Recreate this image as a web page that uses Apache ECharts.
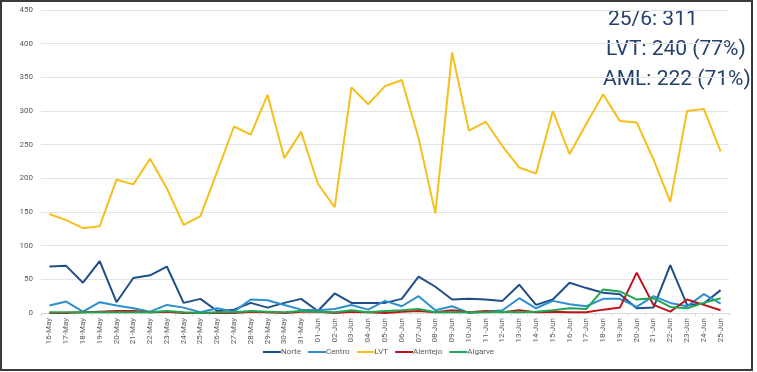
<!DOCTYPE html>
<html lang="pt">
<head>
<meta charset="UTF-8">
<title>Casos por região</title>
<script src="https://cdn.jsdelivr.net/npm/echarts@6/dist/echarts.min.js"></script>
<style>
    *{margin:0;padding:0;box-sizing:border-box;}
    html,body{width:757px;height:372px;background:#fff;overflow:hidden;}
    #main{position:absolute;left:0;top:0;width:757px;height:372px;}
    .frame{position:absolute;left:0;top:0;width:753px;height:371px;border:2px solid #3a3a3a;pointer-events:none;}
</style>
</head>
<body>
<div id="main"></div>
<div class="frame"></div>
<script>
// categorias (dias)
var dias = ['16-May','17-May','18-May','19-May','20-May','21-May','22-May','23-May','24-May','25-May',
    '26-May','27-May','28-May','29-May','30-May','31-May','01-Jun','02-Jun','03-Jun','04-Jun',
    '05-Jun','06-Jun','07-Jun','08-Jun','09-Jun','10-Jun','11-Jun','12-Jun','13-Jun','14-Jun',
    '15-Jun','16-Jun','17-Jun','18-Jun','19-Jun','20-Jun','21-Jun','22-Jun','23-Jun','24-Jun','25-Jun'];

var norte = [69,70,45,77,16,52,56,69,15,21,
    3,5,15,8,15,21,3,29,15,15,
    15,21,54,39,20,21,20,18,42,12,
    20,45,37,30,28,7,8,71,12,14,34];

var centro = [11,17,2,16,11,7,2,12,8,1,
    7,2,20,19,12,5,4,6,12,5,
    18,10,25,4,10,0,2,4,22,7,
    18,13,10,21,21,9,25,15,10,28,14];

var lvt = [147,138,126,129,198,191,229,185,131,144,
    210,277,265,324,230,269,192,157,335,310,
    337,346,260,148,387,271,284,248,216,207,
    300,236,281,325,285,283,228,165,300,303,240];

var alentejo = [0,0,1,2,3,3,1,2,0,0,
    0,0,2,1,0,2,2,0,2,1,
    0,2,3,1,4,1,3,1,4,1,
    2,1,1,5,8,60,12,2,20,12,4];

var algarve = [1,1,1,1,1,1,1,3,1,0,
    1,1,3,2,1,3,2,1,4,1,
    3,4,6,1,1,1,1,2,1,2,
    4,7,6,35,32,20,22,9,7,15,22];

var nomes = ['Norte','Centro','LVT','Alentejo','Algarve'];
var cores = ['#1f4e89','#2e8fcf','#f5bf1c','#c0141c','#1fa84f'];

var resumo = ['25/6: 311','LVT: 240 (77%)','AML: 222 (71%)'];

var myChart = echarts.init(document.getElementById('main'));

function serie(nome, dados, i){
    return {
        name: nome,
        type: 'line',
        data: dados,
        symbol: 'none',
        lineStyle: {width: 2, color: cores[i]},
        itemStyle: {color: cores[i]},
        z: i === 2 ? 1 : 2
    };
}

var option = {
    animation: false,
    textStyle: {fontFamily: 'Roboto, Arial, sans-serif'},
    grid: {left: 41, right: 28, top: 10, bottom: 59},
    legend: {
        data: nomes,
        bottom: 11,
        left: 'center',
        itemWidth: 18,
        itemHeight: 2,
        itemGap: 7,
        icon: 'rect',
        textStyle: {color: '#595959', fontSize: 8, padding: [0, 0, 0, -5]}
    },
    xAxis: {
        type: 'category',
        data: dias,
        boundaryGap: true,
        axisLine: {lineStyle: {color: '#d9d9d9'}},
        axisTick: {show: true, lineStyle: {color: '#d9d9d9'}, length: 3},
        axisLabel: {rotate: 90, interval: 0, fontSize: 8, color: '#595959', margin: 5}
    },
    yAxis: {
        type: 'value',
        min: 0,
        max: 450,
        interval: 50,
        axisLine: {show: false},
        axisTick: {show: false},
        axisLabel: {fontSize: 8, color: '#595959', margin: 8},
        splitLine: {lineStyle: {color: '#e3e3e3'}}
    },
    graphic: resumo.map(function (t, k) {
        return {
            type: 'text',
            left: [608, 606, 603][k],
            top: 9 + k * 30,
            style: {text: t, fontSize: 21, fill: '#24406b', fontFamily: 'Roboto, Arial, sans-serif'}
        };
    }),
    series: [
        serie('Norte', norte, 0),
        serie('Centro', centro, 1),
        serie('LVT', lvt, 2),
        serie('Alentejo', alentejo, 3),
        serie('Algarve', algarve, 4)
    ]
};
myChart.setOption(option);
window.onresize = myChart.resize;
</script>
</body>
</html>
